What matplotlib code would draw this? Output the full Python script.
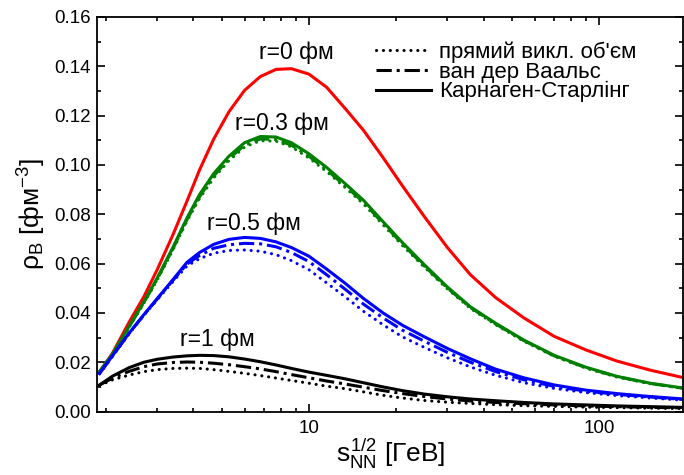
import matplotlib
matplotlib.use('Agg')
import matplotlib.pyplot as plt
from matplotlib.lines import Line2D
from matplotlib.ticker import MultipleLocator, LogLocator, NullFormatter, FixedLocator, FixedFormatter

plt.rcParams['font.family'] = ['Liberation Sans', 'DejaVu Sans']
plt.rcParams['mathtext.fontset'] = 'custom'
plt.rcParams['mathtext.rm'] = 'Liberation Sans'
plt.rcParams['mathtext.it'] = 'Liberation Sans'

# sqrt(s_NN), GeV
s_nn = [1.9, 2.1, 2.4, 2.7, 3.0, 3.4, 3.8, 4.2, 4.7, 5.3, 6.0, 6.8, 7.7, 8.7, 10,
        11.5, 13.3, 15.4, 18, 21, 25, 30, 36, 44, 55, 70, 90, 115, 150, 196]

# r = 0 fm (all three models coincide)
rho_r0 = [0.0162, 0.0235, 0.0362, 0.0466, 0.0575, 0.0717, 0.0853, 0.098, 0.1105, 0.1215,
          0.1302, 0.1358, 0.1387, 0.1390, 0.1368, 0.1315, 0.123, 0.1141, 0.103, 0.0915,
          0.0790, 0.0665, 0.0555, 0.0462, 0.0380, 0.0305, 0.0250, 0.0205, 0.0168, 0.0137]

# r = 0.3 fm
rho_r03_ks = [0.0162, 0.0232, 0.0345, 0.0445, 0.0541, 0.0666, 0.0785, 0.088, 0.0965, 0.1035,
              0.109, 0.1115, 0.1113, 0.109, 0.1045, 0.099, 0.0925, 0.0857, 0.077, 0.0685,
              0.0595, 0.0505, 0.0425, 0.0358, 0.029, 0.0228, 0.018, 0.0143, 0.0115, 0.0095]
rho_r03_vdw = [0.0162, 0.0231, 0.0343, 0.0442, 0.0537, 0.0660, 0.0778, 0.0871, 0.0955, 0.1025,
               0.1080, 0.1105, 0.1103, 0.1080, 0.1035, 0.0980, 0.0916, 0.0849, 0.0763, 0.0679,
               0.0590, 0.0501, 0.0422, 0.0355, 0.0288, 0.0226, 0.0178, 0.0142, 0.0114, 0.0094]
rho_r03_dev = [0.0161, 0.0230, 0.0341, 0.0439, 0.0533, 0.0655, 0.0772, 0.0864, 0.0947, 0.1017,
               0.1072, 0.1098, 0.1096, 0.1073, 0.1028, 0.0973, 0.0909, 0.0842, 0.0757, 0.0673,
               0.0585, 0.0497, 0.0418, 0.0352, 0.0285, 0.0224, 0.0176, 0.0140, 0.0113, 0.0093]

# r = 0.5 fm
rho_r05_ks = [0.0155, 0.0225, 0.0318, 0.0393, 0.0458, 0.0535, 0.0605, 0.0645, 0.0678, 0.0698,
              0.0706, 0.0702, 0.0688, 0.0665, 0.0630, 0.0578, 0.0521, 0.0459, 0.0400, 0.0350,
              0.0303, 0.0256, 0.0214, 0.0172, 0.0137, 0.0108, 0.0087, 0.0073, 0.0061, 0.0051]
rho_r05_vdw = [0.0155, 0.0224, 0.0317, 0.0392, 0.0456, 0.0532, 0.0598, 0.0633, 0.0662, 0.0676,
               0.0682, 0.0680, 0.0668, 0.0645, 0.0608, 0.0555, 0.0497, 0.0436, 0.0380, 0.0330,
               0.0285, 0.0240, 0.0200, 0.0162, 0.0129, 0.0102, 0.0083, 0.0070, 0.0059, 0.0049]
rho_r05_dev = [0.0153, 0.0222, 0.0315, 0.0390, 0.0453, 0.0527, 0.0590, 0.0620, 0.0642, 0.0653,
               0.0655, 0.0650, 0.0636, 0.0612, 0.0575, 0.0522, 0.0466, 0.0407, 0.0352, 0.0303,
               0.0260, 0.0218, 0.0181, 0.0147, 0.0117, 0.0094, 0.0077, 0.0065, 0.0055, 0.0046]

# r = 1 fm
rho_r1_ks = [0.0108, 0.0143, 0.0178, 0.0200, 0.0212, 0.0221, 0.0226, 0.0228, 0.0227, 0.0222,
             0.0213, 0.0202, 0.0189, 0.0175, 0.0160, 0.0147, 0.0133, 0.0117, 0.0100, 0.0085,
             0.0071, 0.0060, 0.0051, 0.0044, 0.0037, 0.0031, 0.0027, 0.0023, 0.0020, 0.0017]
rho_r1_vdw = [0.0108, 0.0135, 0.0163, 0.0182, 0.0193, 0.0199, 0.0201, 0.0200, 0.0196, 0.0190,
              0.0182, 0.0173, 0.0162, 0.0150, 0.0137, 0.0124, 0.0112, 0.0099, 0.0085, 0.0073,
              0.0061, 0.0051, 0.0043, 0.0037, 0.0032, 0.0027, 0.0023, 0.0020, 0.0017, 0.0015]
rho_r1_dev = [0.0106, 0.0128, 0.0148, 0.0162, 0.0170, 0.0175, 0.0176, 0.0175, 0.0170, 0.0163,
              0.0155, 0.0146, 0.0136, 0.0126, 0.0115, 0.0103, 0.0093, 0.0080, 0.0066, 0.0055,
              0.0045, 0.0038, 0.0033, 0.0028, 0.0024, 0.0021, 0.0018, 0.0016, 0.0014, 0.0012]

labels = ["прямий викл. об'єм", 'ван дер Ваальс', 'Карнаген-Старлінг']
r_labels = ['r=0 фм', 'r=0.3 фм', 'r=0.5 фм', 'r=1 фм']
r_label_pos = [(9.05, 0.1431), (8.08, 0.1142), (6.45, 0.0738), (4.84, 0.0265)]

dotted = (0, (0.05, 2.2))
dashdot = (0, (5, 1.6, 1, 1.6))
lw = 2.2

fig = plt.figure(figsize=(6.84, 4.75), dpi=100)
ax = fig.add_axes([0.1425, 0.1335, 0.856, 0.831])

ax.plot(s_nn, rho_r0, color='red', lw=lw)

for dev, vdw, ks, col in [(rho_r03_dev, rho_r03_vdw, rho_r03_ks, 'green'),
                          (rho_r05_dev, rho_r05_vdw, rho_r05_ks, 'blue'),
                          (rho_r1_dev, rho_r1_vdw, rho_r1_ks, 'black')]:
    ax.plot(s_nn, dev, color=col, lw=lw, linestyle=dotted, dash_capstyle='round')
    ax.plot(s_nn, vdw, color=col, lw=lw, linestyle=dashdot)
    ax.plot(s_nn, ks, color=col, lw=lw)

for txt, (x, y) in zip(r_labels, r_label_pos):
    ax.text(x, y, txt, fontsize=16.5, ha='center', va='baseline')

ax.set_xscale('log')
ax.set_xlim(1.868, 194.5)
ax.set_ylim(0, 0.16)
ax.xaxis.set_major_locator(FixedLocator([10, 100]))
ax.xaxis.set_major_formatter(FixedFormatter(['10', '100']))
ax.xaxis.set_minor_locator(LogLocator(base=10, subs=range(2, 10)))
ax.xaxis.set_minor_formatter(NullFormatter())
ax.yaxis.set_major_locator(MultipleLocator(0.02))
ax.yaxis.set_minor_locator(MultipleLocator(0.01))
ax.yaxis.set_major_formatter(plt.FormatStrFormatter('%.2f'))

ax.tick_params(which='both', direction='in', top=True, right=True, width=1.2, labelsize=13.5)
ax.tick_params(which='major', length=6)
ax.tick_params(which='minor', length=3)
ax.tick_params(axis='x', pad=6)
ax.tick_params(axis='y', pad=5)
for sp in ax.spines.values():
    sp.set_linewidth(1.3)

ax.set_xlabel(r'$s_{NN}^{1/2}$ [ГеВ]', fontsize=19, labelpad=0)
ax.set_ylabel(r'$\rho_B$ [фм$^{-3}$]', fontsize=19, labelpad=4)

handles = [Line2D([], [], color='black', lw=lw, linestyle=dotted, dash_capstyle='round'),
           Line2D([], [], color='black', lw=lw, linestyle=dashdot),
           Line2D([], [], color='black', lw=lw)]
ax.legend(handles, labels, loc='upper left', bbox_to_anchor=(0.476, 0.938), frameon=False,
          fontsize=16, handlelength=2.45, handletextpad=0.38, labelspacing=-0.06,
          borderpad=0, borderaxespad=0)

fig.savefig('out.png', dpi=100)
